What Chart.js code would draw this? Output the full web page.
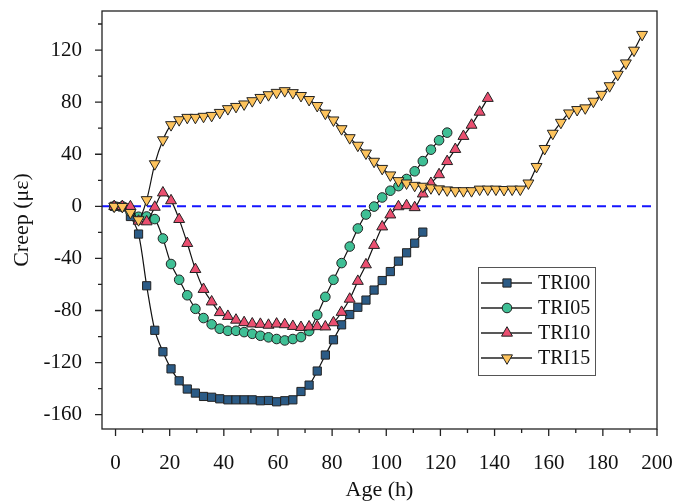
<!DOCTYPE html>
<html>
<head>
<meta charset="utf-8">
<title>Creep vs Age</title>
<script src="https://cdn.jsdelivr.net/npm/chart.js@4.4.1/dist/chart.umd.min.js"></script>
<style>
  body { margin: 0; background: #fff; }
  #c { display: block; }
</style>
</head>
<body>
<canvas id="c" width="673" height="504"></canvas>
<script>
// ---- data ----
const AGE = [-0.5, 2.5, 5.5, 8.5, 11.5, 14.5, 17.5, 20.5, 23.5, 26.5, 29.5, 32.5, 35.5, 38.5, 41.5,
  44.5, 47.5, 50.5, 53.5, 56.5, 59.5, 62.5, 65.5, 68.5, 71.5, 74.5, 77.5, 80.5, 83.5, 86.5,
  89.5, 92.5, 95.5, 98.5, 101.5, 104.5, 107.5, 110.5, 113.5, 116.5, 119.5, 122.5, 125.5, 128.5,
  131.5, 134.5, 137.5, 140.5, 143.5, 146.5, 149.5, 152.5, 155.5, 158.5, 161.5, 164.5, 167.5,
  170.5, 173.5, 176.5, 179.5, 182.5, 185.5, 188.5, 191.5, 194.5];

const TRI00 = [0, -0.5, -7.8, -21.3, -61, -95.2, -111.7, -124.8, -134, -140.3, -143.4, -146,
  -146.6, -147.8, -148.6, -148.6, -148.6, -148.6, -149.3, -149.1, -150.1, -149.3, -148.6,
  -142.2, -137.3, -126.5, -114.2, -102.5, -91, -83.1, -77.5, -72, -64.3, -57, -50.1, -42.1,
  -35.7, -28.3, -19.8];

const TRI05 = [0, 0, -4, -8, -7.8, -9.8, -24.7, -44.3, -56.4, -68.3, -78.7, -85.8, -90.6, -94,
  -95.6, -95.6, -96.6, -97.9, -99.4, -100.6, -101.9, -103, -101.9, -100.4, -95.8, -83.3,
  -69.5, -56.4, -43.6, -30.9, -17, -6.3, -0.2, 6.8, 12, 15.5, 21, 26.9, 34.7, 43.5, 50.7, 56.6];

const TRI10 = [0, 0, -0.2, -11.3, -11.8, -0.6, 10.4, 4.4, -10, -28.4, -48.4, -63.7, -73.3,
  -81.5, -84.4, -87.3, -89.2, -90.2, -90.5, -91.2, -90.3, -90.8, -92.1, -92.9, -92.5, -92.3,
  -92.5, -89.3, -81.3, -71.2, -57.5, -44.8, -29.9, -15.7, -6.5, -0.2, 0.6, -0.9, 9.6, 17.7,
  24.4, 34.5, 43.8, 53.8, 62.4, 72.4, 83];

const TRI15 = [0, -0.2, -4.8, -10.4, 5, 32.6, 51, 62.6, 66.4, 68.2, 68.2, 69, 69.7, 72, 74.9,
  76.6, 78.5, 81, 83.5, 85.6, 87.4, 88.7, 87.2, 85, 81.9, 77.3, 71.4, 66.2, 59.5, 52.6, 46.8,
  40.8, 34.5, 29, 24, 19.6, 17.8, 16, 15.3, 14.1, 13.3, 12.5, 11.9, 11.9, 11.9, 13.1, 13.1,
  13.1, 12.8, 13.1, 13.1, 17.8, 30.5, 44.3, 56, 64.4, 71.6, 74.2, 75.5, 80.6, 85.9, 92.5,
  101.3, 110, 119.8, 131.9];

const X_TICKS = [0, 20, 40, 60, 80, 100, 120, 140, 160, 180, 200];
const X_MINOR = [10, 30, 50, 70, 90, 110, 130, 150, 170, 190];
const Y_TICKS = [-160, -120, -80, -40, 0, 40, 80, 120];
const Y_MINOR = [-140, -100, -60, -20, 20, 60, 100, 140];

const SERIES = [
  { label: 'TRI00', values: TRI00, style: 'rect', radius: 5.8, rotation: 0, fill: '#2b5b86' },
  { label: 'TRI05', values: TRI05, style: 'circle', radius: 4.8, rotation: 0, fill: '#3fbf95' },
  { label: 'TRI10', values: TRI10, style: 'triangle', radius: 6.3, rotation: 0, fill: '#ea4f70' },
  { label: 'TRI15', values: TRI15, style: 'triangle', radius: 6.3, rotation: 180, fill: '#fdc35c' }
];

const FONT = "'Liberation Serif', 'Times New Roman', serif";

const toPoints = vals => vals.map((v, i) => ({ x: AGE[i], y: v }));

const datasets = SERIES.map((s, i) => ({
  label: s.label,
  data: toPoints(s.values),
  borderColor: '#111',
  borderWidth: 1.2,
  tension: 0.3,
  pointStyle: s.style,
  pointRadius: s.radius,
  pointRotation: s.rotation,
  pointBackgroundColor: s.fill,
  pointBorderColor: '#222',
  pointBorderWidth: 1,
  order: 4 - i
}));

// zero reference line
datasets.push({
  label: 'zero',
  data: [{ x: -5, y: 0 }, { x: 200, y: 0 }],
  borderColor: '#1515ff',
  borderWidth: 2,
  borderDash: [9, 6],
  pointRadius: 0,
  order: 10
});

// frame + tick marks
const frame = {
  id: 'frame',
  afterDraw(chart) {
    const { ctx, chartArea: a, scales: { x, y } } = chart;
    ctx.save();
    ctx.strokeStyle = '#222';
    ctx.lineWidth = 1.3;
    ctx.strokeRect(a.left, a.top, a.right - a.left, a.bottom - a.top);
    ctx.beginPath();
    X_TICKS.forEach(v => { const p = x.getPixelForValue(v); ctx.moveTo(p, a.bottom); ctx.lineTo(p, a.bottom + 7); });
    X_MINOR.forEach(v => { const p = x.getPixelForValue(v); ctx.moveTo(p, a.bottom); ctx.lineTo(p, a.bottom + 4); });
    Y_TICKS.forEach(v => { const p = y.getPixelForValue(v); ctx.moveTo(a.left, p); ctx.lineTo(a.left - 7, p); });
    Y_MINOR.forEach(v => { const p = y.getPixelForValue(v); ctx.moveTo(a.left, p); ctx.lineTo(a.left - 4, p); });
    ctx.stroke();
    ctx.restore();
  }
};

// legend box inside the plot
const legendBox = {
  id: 'legendBox',
  afterDraw(chart) {
    const ctx = chart.ctx;
    const bx = 478, by = 267, bw = 117, bh = 108;
    ctx.save();
    ctx.fillStyle = '#fff';
    ctx.fillRect(bx, by, bw, bh);
    ctx.strokeStyle = '#555';
    ctx.lineWidth = 1;
    ctx.strokeRect(bx + 0.5, by + 0.5, bw, bh);
    ctx.font = '20px ' + FONT;
    ctx.textBaseline = 'middle';
    SERIES.forEach((s, i) => {
      const yy = by + 16 + i * 25;
      ctx.strokeStyle = '#222';
      ctx.lineWidth = 1.3;
      ctx.beginPath();
      ctx.moveTo(bx + 3, yy);
      ctx.lineTo(bx + 54, yy);
      ctx.stroke();
      ctx.fillStyle = s.fill;
      ctx.strokeStyle = '#222';
      ctx.lineWidth = 1;
      Chart.helpers.drawPoint(ctx, { pointStyle: s.style, radius: s.radius, rotation: s.rotation, borderWidth: 1 }, bx + 29, yy);
      ctx.fillStyle = '#111';
      ctx.fillText(s.label, bx + 60, yy + 1);
    });
    ctx.restore();
  }
};

new Chart(document.getElementById('c'), {
  type: 'line',
  data: { datasets },
  options: {
    responsive: false,
    animation: false,
    layout: { padding: { top: 11, right: 16, left: 0, bottom: 0 } },
    plugins: { legend: { display: false }, tooltip: { enabled: false } },
    scales: {
      x: {
        type: 'linear',
        min: -5,
        max: 200,
        afterBuildTicks: s => { s.ticks = X_TICKS.map(v => ({ value: v })); },
        afterFit: s => { s.height = 75; s.paddingLeft = 0; s.paddingRight = 0; },
        grid: { display: false, drawTicks: false },
        border: { display: false },
        ticks: { color: '#111', padding: 22, maxRotation: 0, font: { family: FONT, size: 21 } },
        title: { display: true, text: 'Age (h)', color: '#111', padding: { top: 0, bottom: 1 }, font: { family: FONT, size: 22 } }
      },
      y: {
        type: 'linear',
        min: -171,
        max: 150,
        afterBuildTicks: s => { s.ticks = Y_TICKS.map(v => ({ value: v })); },
        afterFit: s => { s.width = 102; s.paddingTop = 0; s.paddingBottom = 0; },
        grid: { display: false, drawTicks: false },
        border: { display: false },
        ticks: { color: '#111', padding: 20, font: { family: FONT, size: 21 } },
        title: { display: true, text: 'Creep (με)', color: '#111', padding: { top: 9, bottom: 0 }, font: { family: FONT, size: 22 } }
      }
    }
  },
  plugins: [frame, legendBox]
});
</script>
</body>
</html>
